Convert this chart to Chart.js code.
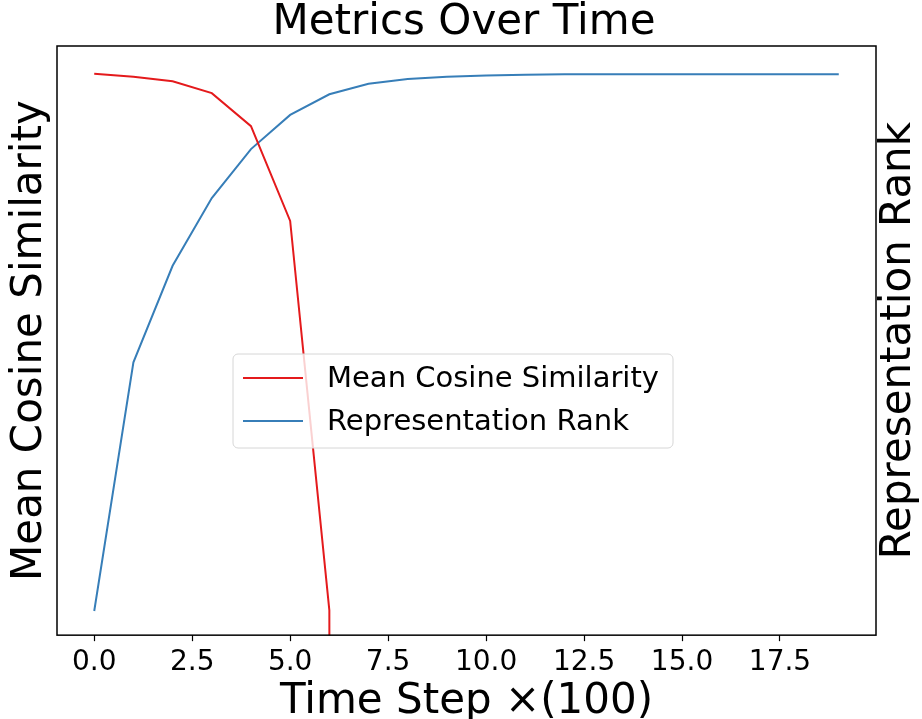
<!DOCTYPE html>
<html>
<head>
<meta charset="utf-8">
<script src="https://cdn.jsdelivr.net/npm/chart.js@4.4.1/dist/chart.umd.min.js"></script>
<style>
  html, body { margin: 0; padding: 0; background: #fff; }
  #wrap { width: 922px; height: 719px; }
</style>
</head>
<body>
<div id="wrap"><canvas id="metricsChart" width="922" height="719"></canvas></div>
<script>
// data (y values as fractions of the axis height)
const timeSteps = [0, 1, 2, 3, 4, 5, 6, 7, 8, 9, 10, 11, 12, 13, 14, 15, 16, 17, 18, 19];
const cosineSim = [0.953, 0.948, 0.940, 0.920, 0.864, 0.703, 0.042, -50, -50, -50, -50, -50, -50, -50, -50, -50, -50, -50, -50, -50];
const reprRank = [0.041, 0.463, 0.627, 0.742, 0.825, 0.883, 0.918, 0.936, 0.944, 0.948, 0.950, 0.951, 0.952, 0.952, 0.952, 0.952, 0.952, 0.952, 0.952, 0.952];
const xTicks = [0, 2.5, 5, 7.5, 10, 12.5, 15, 17.5];

const FONT = "'DejaVu Sans', sans-serif";
const RED = '#e41a1c';
const BLUE = '#377eb8';

const toPoints = ys => timeSteps.map((x, i) => ({ x: x, y: ys[i] }));

// frame, right-hand axis title and legend box (matplotlib style)
const extrasPlugin = {
    id: 'extras',
    afterDatasetsDraw(chart) {
        const { ctx, chartArea: a } = chart;
        ctx.save();

        // frame around the plot
        ctx.strokeStyle = '#000';
        ctx.lineWidth = 1.5;
        ctx.strokeRect(a.left, a.top, a.right - a.left, a.bottom - a.top);

        // right y title, reading bottom to top
        ctx.fillStyle = '#000';
        ctx.font = '42px ' + FONT;
        ctx.textAlign = 'center';
        ctx.textBaseline = 'alphabetic';
        ctx.translate(a.right + 34, (a.top + a.bottom) / 2);
        ctx.rotate(-Math.PI / 2);
        ctx.fillText('Representation Rank', 0, 0);
        ctx.restore();

        // legend
        ctx.save();
        const bx = a.left + 176, by = a.top + 308, bw = 440, bh = 94;
        ctx.beginPath();
        ctx.roundRect(bx, by, bw, bh, 5);
        ctx.fillStyle = 'rgba(255,255,255,0.8)';
        ctx.fill();
        ctx.strokeStyle = '#d6d6d6';
        ctx.lineWidth = 1;
        ctx.stroke();

        ctx.font = '29px ' + FONT;
        ctx.textAlign = 'left';
        ctx.textBaseline = 'middle';
        chart.data.datasets.forEach((ds, i) => {
            const y = by + 24 + i * 43;
            ctx.strokeStyle = ds.borderColor;
            ctx.lineWidth = 2;
            ctx.beginPath();
            ctx.moveTo(bx + 10, y);
            ctx.lineTo(bx + 70, y);
            ctx.stroke();
            ctx.fillStyle = '#000';
            ctx.fillText(ds.label, bx + 94, y + 1);
        });
        ctx.restore();
    }
};

new Chart(document.getElementById('metricsChart'), {
    type: 'line',
    data: {
        datasets: [{
            label: 'Mean Cosine Similarity',
            data: toPoints(cosineSim),
            borderColor: RED,
            borderWidth: 2,
            pointRadius: 0,
            tension: 0,
            yAxisID: 'y'
        }, {
            label: 'Representation Rank',
            data: toPoints(reprRank),
            borderColor: BLUE,
            borderWidth: 2,
            pointRadius: 0,
            tension: 0,
            yAxisID: 'y1'
        }]
    },
    options: {
        responsive: false,
        animation: false,
        layout: { padding: { left: 6, right: 0, top: 0, bottom: 0 } },
        plugins: {
            legend: { display: false },
            tooltip: { enabled: false },
            title: {
                display: true,
                text: 'Metrics Over Time',
                color: '#000',
                font: { family: FONT, size: 42, weight: 'normal', lineHeight: 1.0 },
                padding: { top: 2, bottom: 2 }
            }
        },
        scales: {
            x: {
                type: 'linear',
                min: -0.95,
                max: 19.95,
                afterBuildTicks: scale => { scale.ticks = xTicks.map(v => ({ value: v })); },
                ticks: {
                    color: '#000',
                    font: { family: FONT, size: 28, lineHeight: 1.05 },
                    padding: 7,
                    maxRotation: 0,
                    autoSkip: false,
                    callback: v => Number(v).toFixed(1)
                },
                grid: { display: true, drawOnChartArea: false, tickLength: 6, color: '#000', tickWidth: 1.2 },
                border: { display: false },
                title: {
                    display: true,
                    text: 'Time Step ×(100)',
                    color: '#000',
                    font: { family: FONT, size: 42, lineHeight: 0.82 },
                    padding: { top: 0, bottom: 0 }
                }
            },
            y: {
                position: 'left',
                min: 0,
                max: 1,
                ticks: { display: false },
                grid: { display: false, drawTicks: false, tickLength: 0 },
                border: { display: false },
                title: {
                    display: true,
                    text: 'Mean Cosine Similarity',
                    color: '#000',
                    font: { family: FONT, size: 42, lineHeight: 1.0 },
                    padding: { top: 3, bottom: 6 }
                }
            },
            y1: {
                position: 'right',
                min: 0,
                max: 1,
                ticks: { display: false },
                grid: { display: false, drawTicks: false, tickLength: 0 },
                border: { display: false },
                afterFit: scale => { scale.width = 46; }
            }
        }
    },
    plugins: [extrasPlugin]
});
</script>
</body>
</html>
